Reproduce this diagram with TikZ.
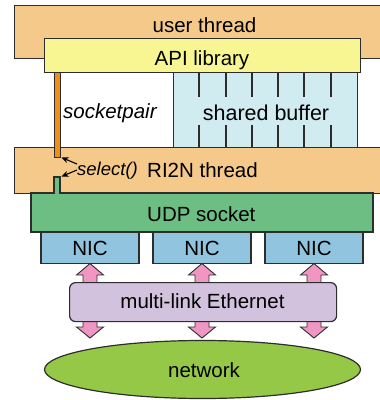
\documentclass[tikz,border=0pt]{standalone}
\usepackage{fontspec}
\setmainfont{Liberation Sans}
\usetikzlibrary{arrows.meta,shapes.geometric}
\definecolor{edge}{RGB}{45,45,45}
\definecolor{utc}{RGB}{244,201,138}
\definecolor{apic}{RGB}{247,246,146}
\definecolor{bufc}{RGB}{208,236,240}
\definecolor{barc}{RGB}{240,142,22}
\definecolor{udpc}{RGB}{108,190,130}
\definecolor{nicc}{RGB}{145,196,222}
\definecolor{ethc}{RGB}{210,194,222}
\definecolor{pinkc}{RGB}{240,150,195}
\definecolor{netc}{RGB}{150,200,72}
\begin{document}
\begin{tikzpicture}[x=1pt,y=-1pt]
\tikzset{
  box/.style={draw=edge, line width=1.2pt, inner sep=0pt, anchor=north west, rectangle},
  lbl/.style={inner sep=0pt, font=\fontsize{20.5}{24}\selectfont, anchor=base, text=black},
  sel/.style={line width=1.1pt, draw=black, -{Stealth[length=7pt,width=6pt]}},
  thin/.style={line width=1.1pt, draw=edge},
  pinkarrow/.style={fill=pinkc, draw=edge, line width=0.9pt, line join=miter},
}
\useasboundingbox (0,0) rectangle (380,400);
% user thread
\node[box, fill=utc, minimum width=390, minimum height=53] (user) at (14,5) {};
\node[lbl] (userl) at (204.5,32) {user thread};
% API library
\node[box, fill=apic, minimum width=316, minimum height=34] (api) at (44,38) {};
\node[lbl] (apil) at (202,65) {API library};
% shared buffer
\node[box, fill=bufc, minimum width=184, minimum height=75] (buf) at (173,72) {};
\foreach \x in {199,226,252,278,304,331}{
  \draw[thin] (\x,72) -- (\x,97);
  \draw[thin] (\x,125) -- (\x,147);
}
\node[lbl, font=\fontsize{21.5}{24}\selectfont] (bufl) at (266,120) {shared buffer};
\node[lbl, anchor=base west, font=\fontsize{20.5}{24}\itshape] (spl) at (63,118) {socketpair};
% RI2N thread
\node[box, fill=utc, minimum width=390, minimum height=46] (ri) at (14,147) {};
\node[lbl, anchor=base west] (ril) at (147,177) {RI2N thread};
% orange socketpair bar
\node[box, fill=barc, minimum width=6, minimum height=85] (bar) at (54,72) {};
% UDP socket with tab
\draw[fill=udpc, draw=edge, line width=1.2pt]
  (31,193) -- (54,193) -- (54,177) -- (60,177) -- (60,193) -- (373,193) -- (373,232) -- (31,232) -- cycle;
\fill[udpc] (54.6,178) rectangle (59.4,194);
\node[inner sep=0pt] (udp) at (202,212.5) {};
\node[lbl, anchor=base west] (udpl) at (147,221) {UDP socket};
% select arrows
\node[lbl, anchor=base west, font=\fontsize{18.5}{22}\itshape] (sell) at (77,175) {select()};
\coordinate (t1) at (77,164);
\coordinate (t2) at (77,170);
\coordinate (h1) at (61.5,157.5);
\coordinate (h2) at (61.5,176.5);
\draw[sel] (t1) -- (h1);
\draw[sel] (t2) -- (h2);
% NICs
\foreach \c/\n in {90/nica,202/nicb,314/nicc}{
  \node[box, fill=nicc, minimum width=98, minimum height=31, anchor=north] (\n) at (\c,232) {};
  \node[lbl] (\n l) at (\c,255) {NIC};
}
% pink arrows
\foreach \c in {90,202,314}{
  \draw[pinkarrow] (\c-7,283) -- (\c-7,275) -- (\c-13.5,275) -- (\c,263.5) -- (\c+13.5,275) -- (\c+7,275) -- (\c+7,283) -- cycle;
  \draw[pinkarrow] (\c-7,320) -- (\c-7,327) -- (\c-13.5,327) -- (\c,338) -- (\c+13.5,327) -- (\c+7,327) -- (\c+7,320) -- cycle;
}
% multi-link Ethernet
\node[box, fill=ethc, rounded corners=6pt, minimum width=267, minimum height=39] (eth) at (69,282) {};
\node[lbl] (ethl) at (202.5,308) {multi-link Ethernet};
% network
\node[draw=edge, fill=netc, line width=1.2pt, ellipse, minimum width=316, minimum height=58, inner sep=0pt] (net) at (202.5,369.5) {};
\node[lbl] (netl) at (204,377) {network};
\end{tikzpicture}
\end{document}
